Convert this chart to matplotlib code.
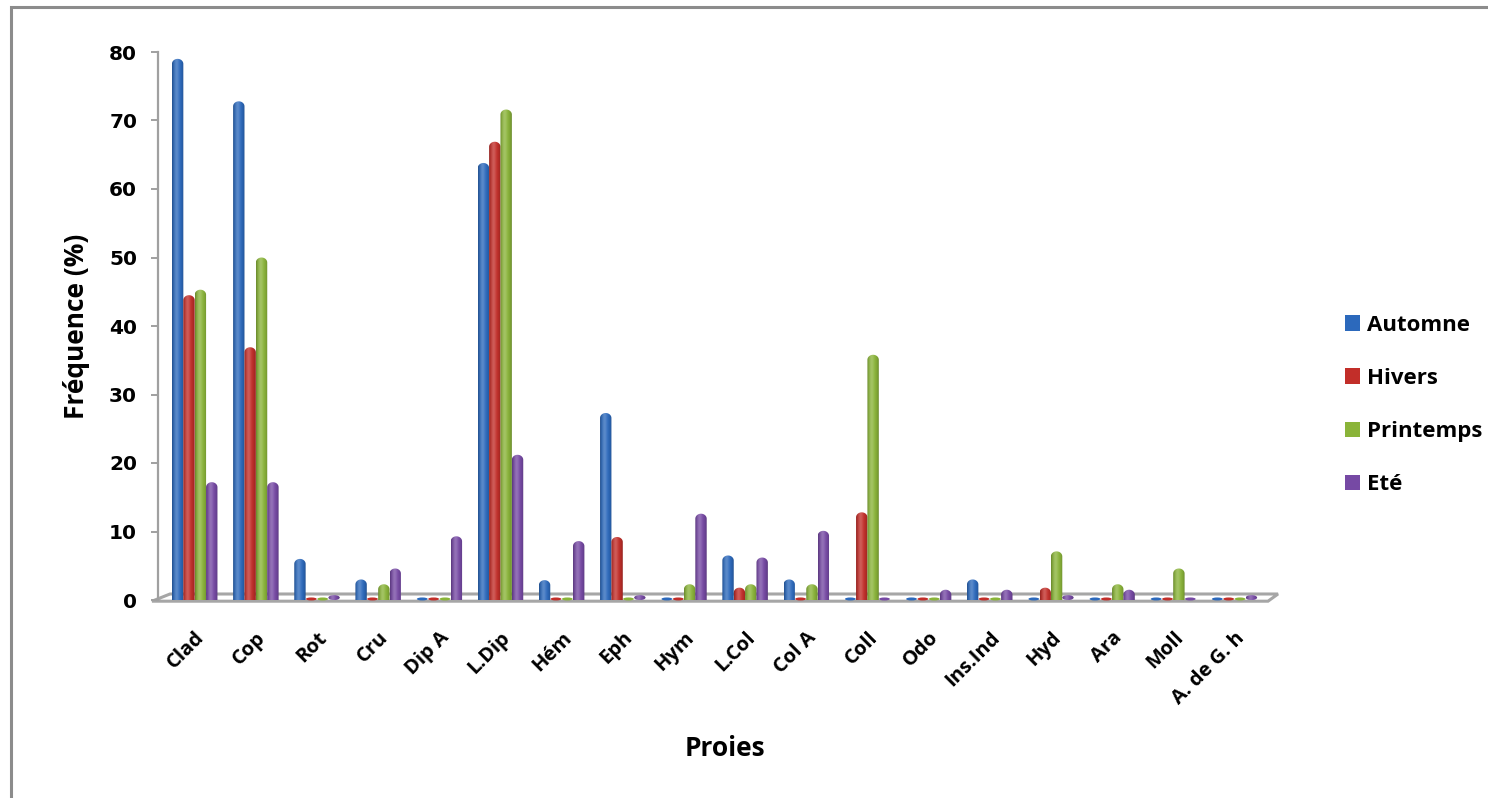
import numpy as np
import matplotlib
matplotlib.use("Agg")
import matplotlib.pyplot as plt
from matplotlib.patches import Rectangle, Polygon, Ellipse, Patch, PathPatch
from matplotlib.path import Path
from matplotlib.colors import to_rgb

# Prey categories and seasonal frequencies (%)
categories = ["Clad", "Cop", "Rot", "Cru", "Dip A", "L.Dip", "Hém", "Eph", "Hym",
              "L.Col", "Col A", "Coll", "Odo", "Ins.Ind", "Hyd", "Ara", "Moll",
              "A. de G. h"]
automne = [79.0, 72.8, 6.0, 3.0, 0.0, 63.8, 2.9, 27.3, 0.0, 6.5, 3.0, 0.0, 0.0,
           3.0, 0.0, 0.0, 0.0, 0.0]
hivers = [44.5, 36.9, 0.0, 0.0, 0.0, 66.9, 0.0, 9.2, 0.0, 1.8, 0.0, 12.8, 0.0,
          0.0, 1.8, 0.0, 0.0, 0.0]
printemps = [45.3, 50.0, 0.0, 2.3, 0.0, 71.6, 0.0, 0.0, 2.3, 2.3, 2.3, 35.8, 0.0,
             0.0, 7.1, 2.3, 4.6, 0.0]
ete = [17.2, 17.2, 0.5, 4.6, 9.3, 21.2, 8.6, 0.5, 12.6, 6.2, 10.1, 0.0, 1.5,
       1.5, 0.5, 1.5, 0.0, 0.5]
series_names = ["Automne", "Hivers", "Printemps", "Eté"]
series_values = [automne, hivers, printemps, ete]
series_colors = ["#2C69BC", "#C22E29", "#8AB439", "#7649A4"]

W, H = 1488, 798
fig = plt.figure(figsize=(W / 100, H / 100), dpi=100)
fig.patch.set_facecolor("white")

# outer chart frame (runs off the right and bottom edges)
fig.patches.append(Rectangle((11 / W, -0.05), 1.2, 1 - 6.5 / H + 0.05,
                             transform=fig.transFigure, fill=False,
                             edgecolor="#8C8C8C", linewidth=2.2))

ax = fig.add_axes([158 / W, 1 - 600 / H, 1110 / W, 548 / H])
ax.set_xlim(-0.6, len(categories) - 0.45)
ax.set_ylim(0, 80)
for s in ["top", "right", "bottom"]:
    ax.spines[s].set_visible(False)
ax.spines["left"].set_color("#A0A0A0")
ax.spines["left"].set_linewidth(1.6)

LABEL_FONT = ["Open Sans", "DejaVu Sans"]

ax.set_yticks(np.arange(0, 81, 10))
ax.set_yticklabels([str(v) for v in range(0, 81, 10)],
                   fontsize=14.5, fontweight="bold", family="DejaVu Sans")
ax.tick_params(axis="y", direction="out", length=5, width=1.4, color="#A0A0A0",
               pad=10)

x = np.arange(len(categories))
ax.set_xticks(x)
ax.set_xticklabels(categories, rotation=45, ha="right", va="top",
                   rotation_mode="anchor", fontsize=14.5, fontweight="bold",
                   family=LABEL_FONT)
ax.tick_params(axis="x", length=0, pad=20)

# floor of the 3-D plot area
px_x = (ax.get_xlim()[1] - ax.get_xlim()[0]) / 1110.0
px_y = 80.0 / 548.0
x0, x1 = ax.get_xlim()
floor = Polygon([(x0 - 6 * px_x, -1.2 * px_y), (x1, -1.2 * px_y),
                 (x1 + 10 * px_x, 6 * px_y), (x0 + 12 * px_x, 6 * px_y)],
                closed=True, facecolor="white", edgecolor="#A6A6A6",
                linewidth=2.2, clip_on=False, zorder=1)
ax.add_patch(floor)


def shade(color, n=64):
    base = np.array(to_rgb(color))
    t = np.linspace(0, 1, n)
    # soft highlight a third of the way across, darker towards both edges
    light = np.exp(-((t - 0.38) / 0.22) ** 2)
    dark = 0.7 + 0.3 * np.sin(np.pi * t) ** 0.5
    rgb = base[None, :] * dark[:, None]
    rgb = rgb + (1 - rgb) * (0.22 * light[:, None])
    return np.clip(rgb, 0, 1)[None, :, :]


bar_w = 0.186
step = 0.186
offsets = (np.arange(4) - 1.5) * step
cap = 5.0 * px_y  # rounded top height in data units

for vals, color, off in zip(series_values, series_colors, offsets):
    grad = shade(color)
    for xi, v in zip(x, vals):
        left = xi + off - bar_w / 2
        right = xi + off + bar_w / 2
        if v <= 0:
            ax.add_patch(Ellipse((xi + off, 0.15), bar_w * 0.95, 3.0 * px_y,
                                 facecolor=color, edgecolor="none", zorder=3,
                                 clip_on=False))
            continue
        if v < 2 * cap:
            patch = Ellipse((xi + off, v / 2 + 0.1), bar_w, max(v, 5 * px_y),
                            facecolor="none", edgecolor="none")
            ax.add_patch(patch)
            im = ax.imshow(grad, extent=(left, right, -1, v + 1), aspect="auto",
                           zorder=3, interpolation="bilinear")
            im.set_clip_path(patch)
            continue
        # cylinder body with a rounded cap, built on the data coordinates
        theta = np.linspace(np.pi, 0, 24)
        cx = xi + off
        top_pts = [(cx + (bar_w / 2) * np.cos(t), v - cap + cap * np.sin(t))
                   for t in theta]
        verts = [(left, 0)] + top_pts + [(right, 0), (left, 0)]
        codes = [Path.MOVETO] + [Path.LINETO] * (len(verts) - 2) + [Path.CLOSEPOLY]
        patch = PathPatch(Path(verts, codes), facecolor="none", edgecolor="none")
        ax.add_patch(patch)
        im = ax.imshow(grad, extent=(left, right, 0, v), aspect="auto", zorder=3,
                       interpolation="bilinear")
        im.set_clip_path(patch)

ax.set_xlim(x0, x1)
ax.set_ylim(0, 80)

ax.set_ylabel("Fréquence (%)", fontsize=19, fontweight="bold", family=LABEL_FONT,
              labelpad=14)
fig.text(725 / W, 1 - 748 / H, "Proies", fontsize=19, fontweight="bold",
         family=LABEL_FONT, ha="center", va="center")

handles = [Patch(facecolor=c, edgecolor="none", label=n)
           for n, c in zip(series_names, series_colors)]
leg = fig.legend(handles=handles, loc="center left",
                 bbox_to_anchor=(1336 / W, 1 - 405 / H), frameon=False,
                 prop={"family": LABEL_FONT, "weight": "bold", "size": 16},
                 handlelength=0.7, handleheight=0.7, handletextpad=0.3,
                 labelspacing=1.45, borderaxespad=0)

fig.savefig("out.png", dpi=100, facecolor="white")
